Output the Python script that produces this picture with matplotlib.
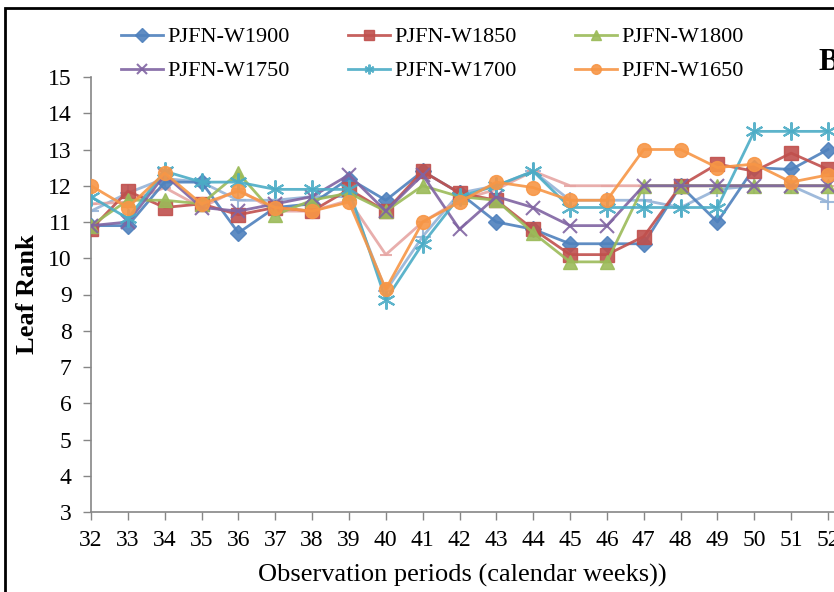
import numpy as np
import matplotlib
matplotlib.use('Agg')
import matplotlib.pyplot as plt
from matplotlib.patches import Rectangle

plt.rcParams['font.family'] = ['Liberation Serif', 'DejaVu Serif']

weeks = np.arange(32, 53)

w1900 = [10.9, 10.9, 12.1, 12.1, 10.7, 11.4, 11.5, 12.2, 11.6, 12.4, 11.8,
         11.0, 10.8, 10.4, 10.4, 10.4, 12.0, 11.0, 12.5, 12.45, 13.0]
w1850 = [10.8, 11.85, 11.4, 11.5, 11.2, 11.4, 11.3, 11.9, 11.3, 12.4, 11.8,
         11.6, 10.8, 10.1, 10.1, 10.6, 12.0, 12.6, 12.4, 12.9, 12.45]
w1800 = [10.9, 11.6, 11.6, 11.5, 12.35, 11.2, 11.6, 11.8, 11.3, 12.0, 11.7,
         11.6, 10.7, 9.9, 9.9, 12.0, 12.0, 12.0, 12.0, 12.0, 12.0]
w1750 = [10.9, 11.0, 12.3, 11.4, 11.3, 11.5, 11.7, 12.3, 11.3, 12.3, 10.8,
         11.7, 11.4, 10.9, 10.9, 12.0, 12.0, 12.0, 12.0, 12.0, 12.0]
w1700 = [11.7, 11.1, 12.4, 12.1, 12.1, 11.9, 11.9, 11.9, 8.85, 10.4, 11.7,
         12.0, 12.4, 11.4, 11.4, 11.4, 11.4, 11.4, 13.5, 13.5, 13.5]
w1650 = [12.0, 11.4, 12.35, 11.5, 11.85, 11.4, 11.3, 11.55, 9.15, 11.0, 11.55,
         12.1, 11.95, 11.6, 11.6, 13.0, 13.0, 12.5, 12.6, 12.1, 12.3]
# two more series plotted without a legend entry
series_plus = [11.3, 11.8, 12.2, 12.1, 11.6, 11.6, 11.7, 11.7, 9.1, 10.6, 11.8,
               12.0, 12.4, 11.6, 11.6, 11.6, 11.4, 11.9, 12.0, 12.0, 11.55]
series_dash = [11.5, 11.55, 11.95, 11.4, 11.9, 11.3, 11.3, 11.6, 10.1, 11.0, 11.6,
               11.9, 12.4, 12.0, 12.0, 12.0, 12.0, 12.0, 12.0, 12.0, 12.0]

names = ['PJFN-W1900', 'PJFN-W1850', 'PJFN-W1800',
         'PJFN-W1750', 'PJFN-W1700', 'PJFN-W1650']
y_ticks = list(range(3, 16))

W, H = 834, 592
fig = plt.figure(figsize=(W / 100, H / 100), dpi=100)

ax = fig.add_axes([91 / W, (H - 512) / H, (W - 91) / W, (512 - 77) / H])
ax.set_xlim(32, 52 + 6 / 36.85)
ax.set_ylim(3, 15)

styles = [
    (w1900, '#4F81BD', 'D', 8.5),
    (w1850, '#C0504D', 's', 9.5),
    (w1800, '#9BBB59', '^', 10),
    (w1750, '#8064A2', 'x', 10),
    (w1700, '#4BACC6', (6, 2, 0), 13),
    (w1650, '#F79646', 'o', 10),
]
extra = [
    (series_plus, '#95B3D7', '+', 12),
    (series_dash, '#E6A5A3', '_', 8),
]

for vals, col, mk, ms in extra:
    ax.plot(weeks, vals, color=col, lw=2, marker=mk, ms=ms, mew=1.5,
            alpha=0.9, label='_nolegend_', zorder=2)

handles = []
for (vals, col, mk, ms), nm in zip(styles, names):
    mew = 1.5 if mk in ('x', (6, 2, 0)) else 1
    h, = ax.plot(weeks, vals, color=col, lw=2, marker=mk, ms=ms, mew=mew,
                 mec=col, mfc=col, alpha=0.9, label=nm, zorder=3)
    handles.append(h)

for s in ['top', 'right']:
    ax.spines[s].set_visible(False)
for s in ['left', 'bottom']:
    ax.spines[s].set_color('#868686')
    ax.spines[s].set_linewidth(1.2)

ax.set_xticks(weeks)
ax.set_yticks(y_ticks)
ax.tick_params(axis='both', direction='out', length=6, width=1,
               color='#868686', labelsize=17)
ax.tick_params(axis='x', pad=7)
ax.tick_params(axis='y', pad=8)

ax.set_xlabel('Observation periods (calendar weeks))', fontsize=19, labelpad=9)
ax.set_ylabel('Leaf Rank', fontsize=19, fontweight='bold', labelpad=6)

# legend order: fill rows left to right
order = [0, 3, 1, 4, 2, 5]
leg = fig.legend([handles[i] for i in order], [names[i] for i in order],
                 ncol=3, loc='upper left', bbox_to_anchor=(112 / W, 1 - 18 / H),
                 frameon=False, fontsize=16, handlelength=1.9, handletextpad=0.2,
                 columnspacing=2.6, labelspacing=0.6, borderaxespad=0)
for h in leg.legend_handles:
    h.set_markersize(7)

fig.text(818 / W, 1 - 62 / H, 'B', fontsize=22, fontweight='bold', va='center')

fig.patches.append(Rectangle((5 / W, -0.1), 1.2, 1.1 - 8 / H, transform=fig.transFigure,
                             fill=False, edgecolor='black', lw=2))

fig.savefig('out.png', dpi=100)
